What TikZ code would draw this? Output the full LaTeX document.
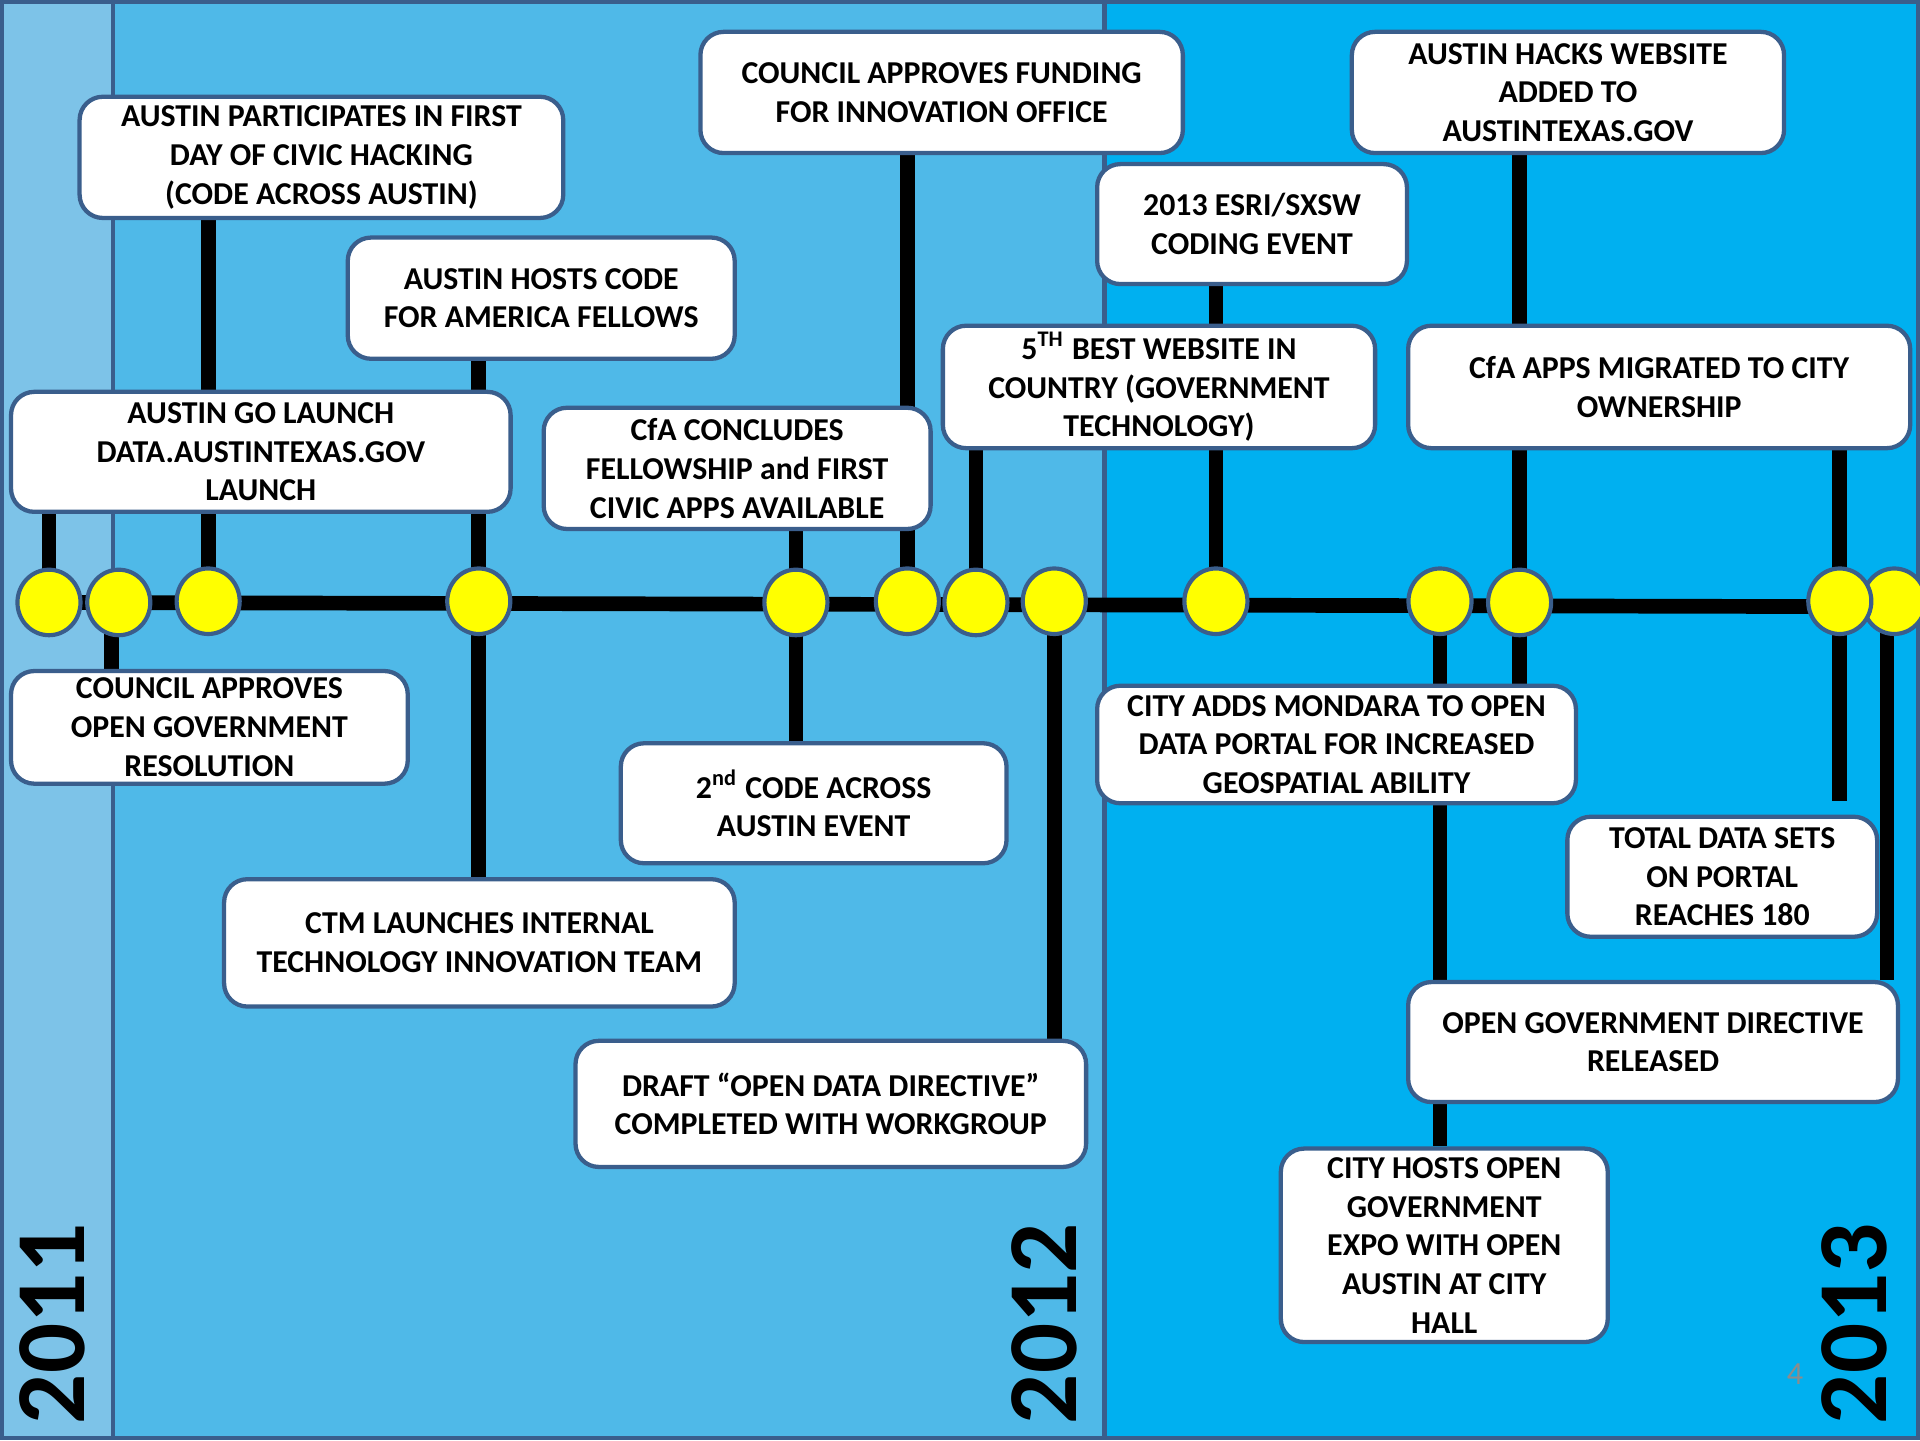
\documentclass[tikz,border=0pt]{standalone}
\usepackage{fontspec}
\setmainfont{Carlito}
\usetikzlibrary{shapes.geometric}
\definecolor{pA}{HTML}{7DC3E8}
\definecolor{pB}{HTML}{4FB9E8}
\definecolor{pC}{HTML}{00B0F0}
\definecolor{edge}{HTML}{3A5E8C}
\definecolor{dotc}{HTML}{FFFF00}
\definecolor{pgnum}{HTML}{8C8C8C}
\pgfdeclarelayer{bg}
\pgfdeclarelayer{links}
\pgfsetlayers{bg,links,main}
\begin{document}
\begin{tikzpicture}[x=0.1mm,y=-0.1mm,
  box/.style={draw=edge, line width=0.35mm, fill=white, rounded corners=1.9mm, align=center, inner sep=0pt, font=\fontsize{7.4}{9}\selectfont\bfseries},
  dot/.style={ellipse, draw=edge, line width=0.34mm, fill=dotc, minimum width=5.15mm, minimum height=5.35mm, inner sep=0pt},
  link/.style={line width=1.2mm, black},
  panel/.style={draw=edge, line width=0.35mm},
  year/.style={rotate=90, font=\fontsize{23}{23}\selectfont\bfseries, inner sep=0pt}
]
\useasboundingbox (0,0) rectangle (1568,1176);
\clip (0,0) rectangle (1568,1176);

% panels
\begin{pgfonlayer}{bg}
\draw[panel, fill=pA] (1.5,1.5) rectangle (92,1174.5);
\draw[panel, fill=pB] (92,1.5) rectangle (902,1174.5);
\draw[panel, fill=pC] (902,1.5) rectangle (1566.3,1174.5);
\end{pgfonlayer}

% boxes
\node[box, minimum width=39.5mm, minimum height=9.9mm] (b1) at (262.5,128.5) {AUSTIN PARTICIPATES IN FIRST\\DAY OF CIVIC HACKING\\(CODE ACROSS AUSTIN)};
\node[box, minimum width=31.6mm, minimum height=9.9mm] (b2) at (442,243.5) {AUSTIN HOSTS CODE\\FOR AMERICA FELLOWS};
\node[box, minimum width=39.4mm, minimum height=9.9mm] (b3) at (769,75.5) {COUNCIL APPROVES FUNDING\\FOR INNOVATION OFFICE};
\node[box, minimum width=35.3mm, minimum height=9.9mm] (b4) at (1280.5,75.5) {AUSTIN HACKS WEBSITE\\ADDED TO\\AUSTINTEXAS.GOV};
\node[box, minimum width=25.3mm, minimum height=9.8mm] (b5) at (1022.5,183) {2013 ESRI/SXSW\\CODING EVENT};
\node[box, minimum width=35.3mm, minimum height=10mm] (b6) at (946.5,316) {5\textsuperscript{TH} BEST WEBSITE IN\\COUNTRY (GOVERNMENT\\TECHNOLOGY)};
\node[box, minimum width=41mm, minimum height=10mm] (b7) at (1355,316) {CfA APPS MIGRATED TO CITY\\OWNERSHIP};
\node[box, minimum width=40.8mm, minimum height=9.8mm] (b8) at (213,369) {AUSTIN GO LAUNCH\\DATA.AUSTINTEXAS.GOV\\LAUNCH};
\node[box, minimum width=31.6mm, minimum height=9.9mm] (b9) at (602,382.5) {CfA CONCLUDES\\FELLOWSHIP and FIRST\\CIVIC APPS AVAILABLE};
\node[box, minimum width=32.4mm, minimum height=9.2mm] (b10) at (171,594) {COUNCIL APPROVES\\OPEN GOVERNMENT\\RESOLUTION};
\node[box, minimum width=31.5mm, minimum height=9.8mm] (b11) at (664.5,656) {2\textsuperscript{nd} CODE ACROSS\\AUSTIN EVENT};
\node[box, minimum width=41.7mm, minimum height=10.4mm] (b12) at (391.5,770) {CTM LAUNCHES INTERNAL\\TECHNOLOGY INNOVATION TEAM};
\node[box, minimum width=41.7mm, minimum height=10.3mm] (b13) at (678.5,901.5) {DRAFT “OPEN DATA DIRECTIVE”\\COMPLETED WITH WORKGROUP};
\node[box, minimum width=39.1mm, minimum height=9.6mm] (b14) at (1091.5,608) {CITY ADDS MONDARA TO OPEN\\DATA PORTAL FOR INCREASED\\GEOSPATIAL ABILITY};
\node[box, minimum width=25.3mm, minimum height=9.8mm] (b15) at (1406.5,716) {TOTAL DATA SETS\\ON PORTAL\\REACHES 180};
\node[box, minimum width=40mm, minimum height=9.8mm] (b16) at (1350,851) {OPEN GOVERNMENT DIRECTIVE\\RELEASED};
\node[box, minimum width=26.7mm, minimum height=15.8mm] (b17) at (1179.5,1017) {CITY HOSTS OPEN\\GOVERNMENT\\EXPO WITH OPEN\\AUSTIN AT CITY\\HALL};

% timeline dots
\node[dot] (c1) at (40,492) {};
\node[dot] (c2) at (97,492) {};
\node[dot] (c3) at (170,491) {};
\node[dot] (c4) at (391,491) {};
\node[dot] (c5) at (650,492) {};
\node[dot] (c6) at (741,491) {};
\node[dot] (c7) at (797,492) {};
\node[dot] (c8) at (861,491) {};
\node[dot] (c9) at (993,491) {};
\node[dot] (c10) at (1176,491) {};
\node[dot] (c11) at (1241,492) {};
\node[dot] (c13) at (1547,491) {};
\node[dot] (c12) at (1502.5,491) {};
\coordinate (c2l) at ([xshift=-0.6mm]c2.center);
\coordinate (c13l) at ([xshift=-0.6mm]c13.center);

% connectors
\begin{pgfonlayer}{links}
\draw[link] (c1.center) -- ([yshift=-0.45mm]c13.center);
\draw[link] (c1.center) -- (c1 |- b8.south);
\draw[link] (c2l) -- (c2l |- b10.north);
\draw[link] (b1.south -| c3) -- (c3.center);
\draw[link] (b2.south -| c4) -- (c4 |- b12.north);
\draw[link] (b9.south -| c5) -- (c5 |- b11.north);
\draw[link] (b3.south -| c6) -- (c6.center);
\draw[link] (b6.south -| c7) -- (c7.center);
\draw[link] (c8.center) -- (c8 |- b13.north);
\draw[link] (b5.south -| c9) -- (c9.center);
\draw[link] (c10.center) -- (c10 |- b17.north);
\draw[link] (b4.south -| c11) -- (c11 |- b14.north);
\draw[link] (b7.south -| c12) -- (c12.center);
\draw[link] (c12.center) -- ([yshift=1.1mm]c12 |- b15.north);
\draw[link] (c13l) -- (c13l |- b16.north);
\end{pgfonlayer}

% years and page number
\node[year] (y11) at (43,1081) {2011};
\node[year] (y12) at (853,1081) {2012};
\node[year] (y13) at (1514,1081) {2013};
\node[font=\fontsize{7.5}{9}\selectfont, text=pgnum, inner sep=0pt] (pg) at (1466,1122) {4};
\end{tikzpicture}
\end{document}
